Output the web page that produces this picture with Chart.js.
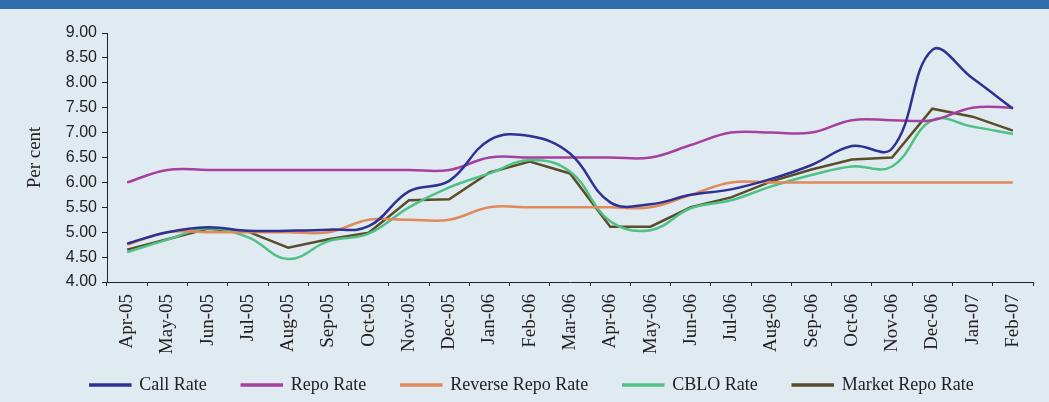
<!DOCTYPE html>
<html>
<head>
<meta charset="utf-8">
<script src="https://cdn.jsdelivr.net/npm/chart.js@4/dist/chart.umd.min.js"></script>
<style>
  html, body { margin: 0; padding: 0; background: #e0eaf1; }
  #wrap { position: relative; width: 1049px; height: 402px; }
  #band { position: absolute; left: 0; top: 0; width: 1049px; height: 9px; background: #2d6fae; }
</style>
</head>
<body>
<div id="wrap">
  <canvas id="rates-chart"></canvas>
  <div id="band"></div>
</div>
<script>
// months on the x axis
const months = ['Apr-05', 'May-05', 'Jun-05', 'Jul-05', 'Aug-05', 'Sep-05', 'Oct-05', 'Nov-05',
    'Dec-05', 'Jan-06', 'Feb-06', 'Mar-06', 'Apr-06', 'May-06', 'Jun-06', 'Jul-06', 'Aug-06',
    'Sep-06', 'Oct-06', 'Nov-06', 'Dec-06', 'Jan-07', 'Feb-07'];

// per cent
const callRate = [4.77, 5.00, 5.10, 5.03, 5.03, 5.05, 5.12, 5.82, 6.03, 6.85, 6.93, 6.58,
    5.60, 5.56, 5.75, 5.86, 6.07, 6.35, 6.73, 6.68, 8.66, 8.09, 7.48];
const repoRate = [6.00, 6.25, 6.25, 6.25, 6.25, 6.25, 6.25, 6.25, 6.25, 6.50, 6.50, 6.50,
    6.50, 6.50, 6.75, 7.00, 7.00, 7.00, 7.25, 7.25, 7.25, 7.50, 7.50];
const reverseRepoRate = [4.75, 5.00, 5.00, 5.00, 5.00, 5.00, 5.25, 5.25, 5.25, 5.50, 5.50, 5.50,
    5.50, 5.50, 5.75, 6.00, 6.00, 6.00, 6.00, 6.00, 6.00, 6.00, 6.00];
const cbloRate = [4.60, 4.85, 5.08, 4.90, 4.46, 4.82, 4.97, 5.50, 5.90, 6.18, 6.45, 6.22,
    5.22, 5.04, 5.48, 5.64, 5.92, 6.15, 6.32, 6.32, 7.25, 7.12, 6.97];
const marketRepoRate = [4.65, 4.86, 5.07, 5.01, 4.69, 4.86, 4.99, 5.64, 5.66, 6.20, 6.42, 6.18,
    5.11, 5.11, 5.50, 5.70, 6.02, 6.26, 6.46, 6.50, 7.48, 7.32, 7.04];

const yTicks = [4.0, 4.5, 5.0, 5.5, 6.0, 6.5, 7.0, 7.5, 8.0, 8.5, 9.0];

const serif = "'Liberation Serif', 'Times New Roman', serif";
const sans = "'Liberation Sans', Arial, sans-serif";
const ink = '#222222';

function series(label, data, color, smooth) {
    return {
        label,
        data,
        borderColor: color,
        backgroundColor: color,
        borderWidth: 2.5,
        pointRadius: 0,
        tension: smooth ? 0.4 : 0,
        fill: false
    };
}

// legend keeps its wide item gaps, but sits a bit higher than the layout puts it
const liftLegend = {
    id: 'liftLegend',
    afterLayout(chart) {
        const lg = chart.legend;
        if (!lg) return;
        lg.top -= 16;
        lg.bottom -= 16;
    }
};

new Chart(document.getElementById('rates-chart'), {
    type: 'line',
    data: {
        labels: months,
        datasets: [
            series('Call Rate', callRate, '#2e3192', true),
            series('Repo Rate', repoRate, '#a5409f', true),
            series('Reverse Repo Rate', reverseRepoRate, '#e0895b', true),
            series('CBLO Rate', cbloRate, '#4fc184', true),
            series('Market Repo Rate', marketRepoRate, '#5a4e2a', false)
        ]
    },
    plugins: [liftLegend],
    options: {
        responsive: true,
        maintainAspectRatio: false,
        animation: false,
        devicePixelRatio: 1,
        layout: { padding: { top: 33, right: 16, left: 31, bottom: -18 } },
        plugins: {
            legend: {
                position: 'bottom',
                labels: {
                    font: { family: serif, size: 18 },
                    color: ink,
                    boxWidth: 40,
                    boxHeight: 1,
                    padding: 35
                }
            },
            tooltip: { enabled: false }
        },
        scales: {
            x: {
                offset: true,
                afterFit: s => { s.height = 75; },
                border: { color: ink, width: 1 },
                grid: { offset: true, drawOnChartArea: false, tickLength: 4, color: ink },
                ticks: {
                    minRotation: 90,
                    maxRotation: 90,
                    autoSkip: false,
                    padding: 8,
                    color: ink,
                    font: { family: serif, size: 19 }
                }
            },
            y: {
                min: 4,
                max: 9,
                afterFit: s => { s.width = 76; },
                afterBuildTicks: s => { s.ticks = yTicks.map(v => ({ value: v })); },
                border: { color: ink, width: 1 },
                grid: { drawOnChartArea: false, tickLength: 5, color: ink },
                ticks: {
                    padding: 5,
                    color: ink,
                    font: { family: sans, size: 16 },
                    callback: v => Number(v).toFixed(2)
                },
                title: {
                    display: true,
                    text: 'Per cent',
                    color: ink,
                    font: { family: serif, size: 19 },
                    padding: { top: -7, bottom: 0 }
                }
            }
        }
    }
});
</script>
</body>
</html>
